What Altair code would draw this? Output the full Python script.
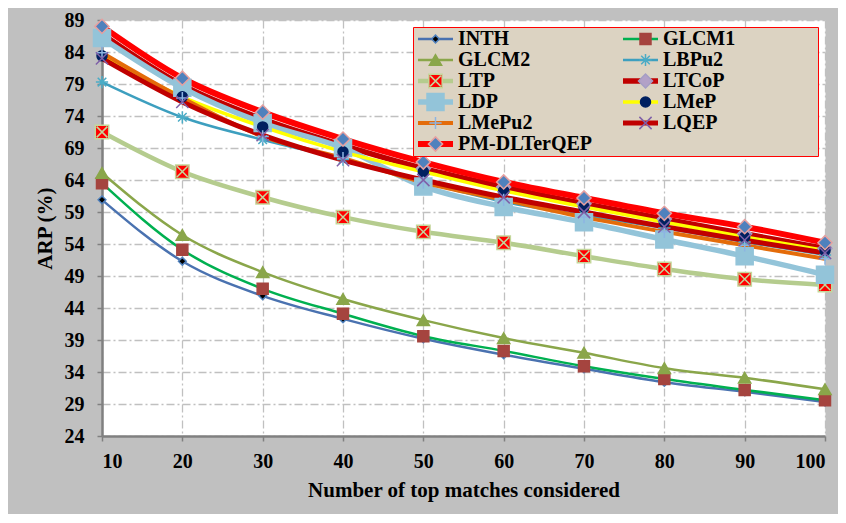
import altair as alt
import pandas as pd

FONT = "Liberation Serif"

x_vals = [10, 20, 30, 40, 50, 60, 70, 80, 90, 100]
series_names = ["INTH", "GLCM1", "GLCM2", "LBPu2", "LTP", "LTCoP",
                "LDP", "LMeP", "LMePu2", "LQEP", "PM-DLTerQEP"]

inth = [60.9, 51.3, 45.9, 42.3, 39.2, 36.7, 34.5, 32.4, 30.9, 29.3]
glcm1 = [63.5, 53.1, 47.0, 43.1, 39.6, 37.3, 34.9, 32.9, 31.2, 29.6]
glcm2 = [65.1, 55.4, 49.6, 45.4, 42.1, 39.3, 37.0, 34.6, 33.1, 31.3]
lbpu2 = [79.3, 73.8, 70.3, 67.2, 63.7, 60.6, 58.5, 56.5, 54.3, 52.3]
ltp = [71.5, 65.3, 61.3, 58.2, 55.9, 54.2, 52.1, 50.1, 48.5, 47.6]
ltcop = [86.8, 78.8, 73.5, 69.4, 65.8, 62.9, 60.3, 57.9, 55.6, 53.3]
ldp = [86.2, 78.4, 72.9, 69.0, 63.0, 59.8, 57.4, 54.7, 52.1, 49.2]
lmep = [83.4, 77.0, 72.3, 68.4, 65.3, 62.3, 59.8, 57.4, 55.1, 53.0]
lmepu2 = [83.9, 76.8, 70.8, 67.4, 63.6, 60.9, 58.2, 55.9, 53.8, 51.7]
lqep = [83.0, 76.2, 71.0, 67.1, 64.0, 61.3, 59.0, 56.7, 54.6, 52.6]
pm_dlterqep = [88.0, 79.9, 74.6, 70.4, 66.8, 63.7, 61.2, 58.8, 56.7, 54.2]

series_values = [inth, glcm1, glcm2, lbpu2, ltp, ltcop, ldp, lmep, lmepu2, lqep, pm_dlterqep]

line_colors = ["#4a72b0", "#00b050", "#8aa64a", "#3d9fbf", "#b5cc8e", "#c00000",
               "#93c4d9", "#ffff00", "#e46c0a", "#c00000", "#ff0000"]
line_widths = [2.5, 2.5, 2.5, 2.5, 4.5, 5.5, 5.5, 3.5, 4, 5, 6]

marker_shapes = ["diamond", "square", "triangle-up",
                 "M-1,0L1,0M0,-1L0,1M-0.7,-0.7L0.7,0.7M-0.7,0.7L0.7,-0.7",
                 "M-1,-1L1,-1L1,1L-1,1Z M-0.8,-0.8L0.8,0.8M-0.8,0.8L0.8,-0.8",
                 "diamond", "square", "circle",
                 "M-1,0L1,0M0,-1L0,1",
                 "M-1,-1L1,1M-1,1L1,-1",
                 "diamond"]
marker_fills = ["#000000", "#a5443f", "#8aa64a", "transparent", "#ff0000", "#b2a1c7",
                "#93c4d9", "#002060", "transparent", "transparent", "#4f81bd"]
marker_strokes = ["#4f81bd", "#a5443f", "#8aa64a", "#4bacc6", "#c4d79b", "#a49ec4",
                  "#93c4d9", "#002060", "#8db4e2", "#7f60a8", "#e6a0a0"]
marker_sizes = [60, 121, 150, 150, 180, 196, 289, 100, 150, 150, 200]

rows = []
for name, vals in zip(series_names, series_values):
    for xv, v in zip(x_vals, vals):
        rows.append({"x": xv, "value": v, "series": name})
df = pd.DataFrame(rows)

x_enc = alt.X("x:Q", scale=alt.Scale(domain=[10, 100], nice=False, zero=False),
              axis=alt.Axis(values=x_vals, title="Number of top matches considered",
                            labelPadding=10, titlePadding=8, format="d"))
y_enc = alt.Y("value:Q", scale=alt.Scale(domain=[24, 89], nice=False, zero=False),
              axis=alt.Axis(values=list(range(24, 90, 5)), title="ARP (%)",
                            labelPadding=13, titlePadding=9, format="d"))

common_legend = dict(orient="none", legendX=311, legendY=7, columns=2,
                     direction="horizontal", rowPadding=1, gridAlign="all", clipHeight=20,
                     labelFont=FONT, labelFontSize=20, labelFontWeight="bold",
                     labelColor="black", labelLimit=400, padding=2, cornerRadius=0)

line_legend = alt.Legend(title=" ", titleOrient="right", titlePadding=81,
                         titleFont=FONT, titleFontSize=20,
                         symbolType="stroke", symbolSize=1225, labelOffset=2,
                         columnPadding=27,
                         fillColor="#dcd3c2", strokeColor="#ff0000", **common_legend)
marker_legend = alt.Legend(title=None, symbolOffset=10.5, labelOffset=23, labelExpr="''",
                           columnPadding=156,
                           symbolOpacity=1, symbolStrokeWidth=1.5,
                           fillColor="transparent", strokeColor="transparent",
                           **common_legend)

lines = alt.Chart(df).mark_line(interpolate="monotone", strokeJoin="round").encode(
    x=x_enc,
    y=y_enc,
    color=alt.Color("series:N", scale=alt.Scale(domain=series_names, range=line_colors),
                    legend=line_legend),
    strokeWidth=alt.StrokeWidth("series:N",
                                scale=alt.Scale(type="ordinal", domain=series_names, range=line_widths),
                                legend=line_legend),
    detail="series:N",
)

points = alt.Chart(df).mark_point(filled=True, opacity=1, strokeWidth=1.5).encode(
    x=x_enc,
    y=y_enc,
    shape=alt.Shape("series:N", scale=alt.Scale(domain=series_names, range=marker_shapes),
                    legend=marker_legend),
    fill=alt.Fill("series:N", scale=alt.Scale(domain=series_names, range=marker_fills),
                  legend=marker_legend),
    stroke=alt.Stroke("series:N", scale=alt.Scale(domain=series_names, range=marker_strokes),
                      legend=marker_legend),
    size=alt.Size("series:N", scale=alt.Scale(type="ordinal", domain=series_names, range=marker_sizes),
                  legend=marker_legend),
)

chart = alt.layer(lines, points).resolve_legend(
    color="independent", strokeWidth="independent", shape="independent",
    fill="independent", stroke="independent", size="independent",
).properties(
    width=723, height=416, background="#c0c0c0",
    autosize=alt.AutoSizeParams(type="none"),
    padding={"left": 94, "top": 12, "right": 13, "bottom": 78},
).configure_view(
    fill="white", stroke="transparent",
).configure_axis(
    domainColor="#808080", domainWidth=2.5,
    tickColor="#808080", tickSize=5, tickWidth=1.5,
    gridColor="#c0c0c0", gridDash=[8, 3, 2, 3], gridWidth=1.3,
    labelFont=FONT, labelFontSize=20, labelFontWeight="bold", labelColor="black",
    titleFont=FONT, titleFontSize=21, titleFontWeight="bold", titleColor="black",
)

chart.save("out.html", embed_options={"renderer": "svg", "actions": False})
